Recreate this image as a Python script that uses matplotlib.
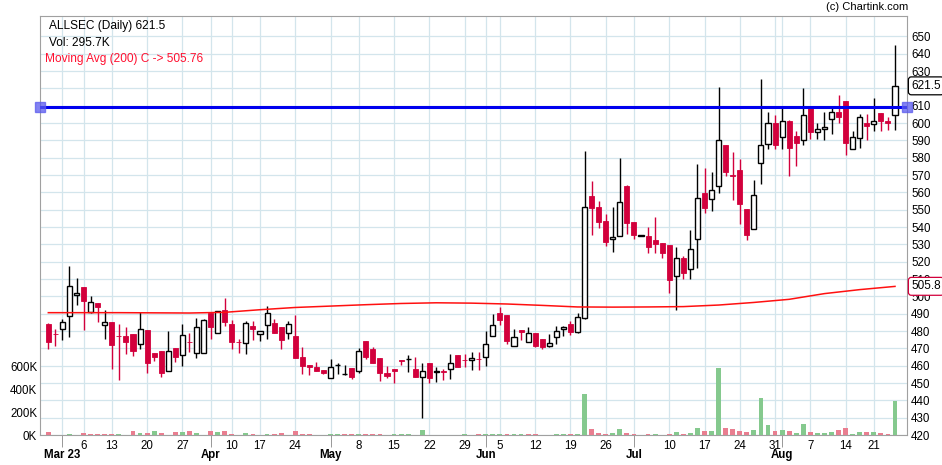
import numpy as np
import matplotlib
matplotlib.use("Agg")
import matplotlib.pyplot as plt
from matplotlib.transforms import blended_transform_factory

plt.rcParams['font.family'] = ['Liberation Sans', 'DejaVu Sans']

# daily OHLC (Feb 27 .. Aug 24, trading days only)
opens = [484, 478.3, 481.3, 488.8, 500.6, 505.4, 490.8, 496.2, 483.3, 485.2,
         477.4, 477.1, 478.3, 472.3, 480.6, 467.3, 468.7, 456.7, 470, 466,
         473.9, 467.1, 467.1, 490.6, 478.7, 492.1, 484, 473.7, 472.9, 482.7,
         478.1, 483.3, 484.6, 482.1, 478.7, 477.1, 465.2, 460.4, 459.2, 457.5,
         452.7, 460.4, 455.2, 458.8, 457.1, 474.4, 469.4, 464.6, 456, 458,
         463.3, 463.7, 458, 453.7, 461.3, 456.5, 456.7, 457.9, 466, 463.5,
         463.1, 464, 464.8, 477.1, 490.6, 489.2, 471.3, 480.6, 473.5, 478.9,
         475.2, 471.5, 476.3, 481, 484, 479.6, 487.3, 558, 551.6, 543.5,
         532.9, 534.7, 563.8, 542.9, 535, 534.9, 532.5, 530.6, 529.7, 511.7,
         521.9, 515.6, 532.9, 559.5, 556, 563.6, 587.5, 569.9, 573, 550.7,
         538.7, 576.9, 587.9, 600, 592.1, 601.3, 592.7, 590.2, 608.7, 595,
         596.5, 602.3, 606.2, 612.9, 585, 591.3, 600, 599.4, 605.8, 601.3,
         604.6]
highs = [484.5, 481, 486.7, 517.7, 510.6, 505.4, 500.2, 496.2, 492.1, 485.2,
         484, 482.1, 478.3, 491.2, 480.6, 467.3, 468.7, 480.2, 470, 484,
         478.6, 487.3, 486.7, 490.6, 491.7, 498.8, 486.3, 475.2, 486, 486,
         480, 494.6, 486.7, 482.1, 486, 489.2, 470.6, 460.4, 461.9, 457.5,
         463.8, 461.7, 460.4, 458.8, 470, 474.4, 470.8, 464.6, 459.8, 458,
         463.3, 466, 464.8, 461.3, 461.3, 459, 457.9, 466.7, 466, 466.7,
         467.9, 468.1, 480, 489.8, 493.6, 489.2, 481, 480.6, 482.5, 478.9,
         475.2, 478.3, 482.9, 482.9, 486, 490.6, 584, 566.6, 555.1, 547.4,
         551.6, 579.6, 564.3, 542.9, 535, 540, 545.8, 530.6, 529.7, 528.7,
         523.3, 538.3, 576.3, 574, 571.9, 620.6, 587.5, 583.4, 579.2, 550.7,
         567, 625.4, 606.2, 604.8, 608.7, 602, 595.5, 620.2, 608.7, 600,
         606.2, 608.7, 616.3, 612.9, 595.2, 605.2, 605.2, 614.2, 605.8, 603.3,
         645.2]
lows = [469.6, 471.5, 474.8, 476.7, 495, 480.6, 490.2, 485.4, 475.4, 458,
        451.7, 466.7, 465.6, 469.6, 456, 462.7, 453.7, 456.7, 462.3, 460,
        468.1, 464.2, 467.1, 475.2, 478.7, 483.1, 469.6, 467.5, 466.7, 474.8,
        474.4, 475.6, 479, 469.6, 475.2, 464.6, 455, 454.6, 457.1, 455.2,
        452.7, 455.2, 454.6, 452.3, 455.6, 463.8, 461.3, 451.3, 452.7, 449.8,
        460.4, 456.5, 453.3, 429.6, 449.8, 450.8, 451.7, 452.3, 459, 459,
        457.5, 457.5, 460, 477.1, 483.5, 472.3, 471.3, 474.8, 473.5, 471,
        469.6, 471, 472.5, 477.1, 477.7, 478.7, 486.7, 535.4, 539.7, 529.1,
        525.8, 534.7, 535.8, 532.9, 535, 524.8, 524.8, 522.3, 501.7, 491.9,
        509.8, 509.8, 516.6, 548, 549.3, 559.9, 569.5, 555.5, 542, 532.4,
        538.7, 564.7, 585, 585, 585, 569.5, 575.3, 587.5, 590.8, 590.8,
        590.2, 593.7, 599.8, 581.5, 585, 585.6, 590.2, 595.6, 595.2, 596,
        596]
closes = [473.8, 478.1, 485, 506, 501.7, 497.5, 496.5, 494, 485, 471.9,
          477.1, 473.8, 468.7, 481, 461.7, 464.8, 456, 468.5, 465.2, 477.5,
          473.7, 482.1, 486.2, 482.5, 491.7, 485, 473.8, 473.5, 484.4, 481.3,
          480, 490.2, 479, 474.8, 483.8, 464.6, 460, 459.4, 457.1, 456,
          459, 460.4, 455.2, 453.7, 468.5, 465.2, 461.7, 456, 454, 457.1,
          462.7, 463.7, 453.3, 457.1, 452.7, 456.5, 456.5, 461.3, 459.4, 463.3,
          464.6, 463.8, 472.3, 483.3, 486.3, 474.2, 476.7, 479.2, 478.9, 471.5,
          471, 472.9, 480, 482.1, 479.6, 487.9, 551.6, 551.2, 543.1, 531.6,
          534.3, 554.3, 542.6, 535.4, 535, 528.7, 530, 524.8, 509.4, 521.9,
          513.3, 527.1, 556.6, 550.8, 561.4, 590.2, 571.5, 569.7, 553.5, 535.4,
          558.4, 587.5, 600, 587.5, 601.3, 585.6, 588.8, 604.6, 594.6, 596.5,
          597.9, 606.5, 603.3, 588.5, 591.7, 603.3, 598.1, 601.3, 601, 600,
          621.5]
# volume in thousands
volume_k = [26, 3, 3, 9, 3, 15, 9, 9, 9, 9,
            9, 3, 35, 17, 17, 35, 17, 3, 26, 26,
            35, 17, 3, 35, 26, 35, 9, 3, 17, 9,
            3, 9, 9, 17, 3, 35, 9, 9, 3, 3,
            9, 9, 9, 9, 9, 9, 9, 9, 3, 9,
            9, 9, 3, 43, 3, 3, 3, 3, 3, 9,
            3, 9, 9, 9, 9, 9, 9, 9, 9, 9,
            3, 3, 9, 9, 9, 9, 357, 52, 20, 12,
            20, 52, 17, 12, 3, 12, 9, 3, 12, 26,
            12, 17, 61, 38, 38, 586, 61, 52, 38, 26,
            44, 325, 87, 38, 44, 38, 17, 96, 26, 17,
            17, 26, 44, 61, 9, 26, 26, 26, 17, 12,
            295.7]

# 200 day moving average, read at a few candles
ma_pos = [0, 10, 20, 25, 30, 35, 40, 45, 50, 55, 60, 65, 70, 75, 80, 85,
          90, 95, 100, 105, 110, 115, 120]
ma_val = [490.6, 490.6, 490.4, 490.8, 492.3, 493.6, 494.4, 495.2, 495.9, 496.3,
          496.1, 495.6, 494.8, 493.9, 493.8, 493.9, 494.1, 495.0, 496.5, 498.3,
          501.6, 503.9, 505.76]

day_pos = [5, 9, 14, 19, 26, 30, 35, 44, 49, 54, 59, 64, 69, 74, 79,
           88, 93, 98, 103, 108, 113, 117]
day_labels = ['6', '13', '20', '27', '10', '17', '24', '8', '15', '22', '29',
              '5', '12', '19', '26', '10', '17', '24', '31', '7', '14', '21']
month_pos = [2, 23, 40, 62, 83, 104]
month_labels = ['Mar 23', 'Apr', 'May', 'Jun', 'Jul', 'Aug']

hline_level = 609.2
last_close = 621.5
last_ma = 505.8

red = '#d2003c'
grid_c = '#d3e5ec'

o = np.array(opens)
h = np.array(highs)
l = np.array(lows)
c = np.array(closes)
x = np.arange(len(c))

fig = plt.figure(figsize=(9.42, 4.65), dpi=100)
ax = fig.add_axes([40 / 942, 30 / 465, 867 / 942, 419.5 / 465])
vax = ax.twinx()

ax.set_xlim(-1.18, 121.7)
ax.set_ylim(420, 662.1)
ax.set_axisbelow(True)

ax.yaxis.tick_right()
ax.yaxis.set_label_position('right')
ax.set_yticks(range(420, 651, 10))
ax.tick_params(axis='y', length=0, pad=3, labelsize=8.3)

ax.set_xticks(day_pos, day_labels)
ax.set_xticks(month_pos, month_labels, minor=True)
ax.tick_params(axis='x', which='major', length=0, pad=3.5, labelsize=8.3)
ax.tick_params(axis='x', which='minor', length=8.6, pad=1.5, labelsize=8.3,
               color='#888888')
for t in ax.get_xticklabels(minor=True):
    t.set_fontweight('bold')

ax.grid(True, axis='x', which='both', color=grid_c, lw=0.9)
ax.grid(True, axis='y', which='major', color=grid_c, lw=0.9)
for s in ax.spines.values():
    s.set_color('#a0a0a0')

# candles
up = c > o
down = c < o
flat = c == o
wick_cols = np.where(down, red, 'black')
ax.vlines(x, l, h, colors=wick_cols, lw=1, zorder=2)
body_b = np.minimum(o, c)
body_h = np.maximum(np.abs(c - o), 0.15)
ax.bar(x[up | flat], body_h[up | flat], bottom=body_b[up | flat], width=0.72,
       facecolor='white', edgecolor='black', lw=1, zorder=3)
ax.bar(x[down], body_h[down], bottom=body_b[down], width=0.72,
       facecolor=red, edgecolor=red, lw=0.6, zorder=3)

ax.plot(ma_pos, ma_val, color='#ff1010', lw=1.1, zorder=4)

# horizontal level line
ax.axhline(hline_level, color='#0000ee', lw=2.2, zorder=5)
tr = blended_transform_factory(ax.transAxes, ax.transData)
ax.plot([0, 1], [hline_level, hline_level], 's', ms=7, color='#5a5aee',
        alpha=0.75, transform=tr, clip_on=False, zorder=6)

ax.text(1.005, last_close, f'{last_close}', transform=tr, va='center', ha='left',
        fontsize=8.5, zorder=7,
        bbox=dict(boxstyle='round,pad=0.25', fc='white', ec='black', lw=0.9))
ax.text(1.005, last_ma, f'{last_ma}', transform=tr, va='center', ha='left',
        fontsize=8.5, zorder=7,
        bbox=dict(boxstyle='round,pad=0.25', fc='white', ec=red, lw=0.9))

# volume
vax.set_ylim(0, 3648)
vax.yaxis.tick_left()
vax.yaxis.set_label_position('left')
vax.set_yticks([0, 200, 400, 600], ['0K', '200K', '400K', '600K'])
vax.tick_params(axis='y', length=0, pad=2, labelsize=8.3)
for s in vax.spines.values():
    s.set_visible(False)
prev_close = np.concatenate([[o[0]], c[:-1]])
vol_cols = np.where(c >= prev_close, '#85c98e', '#e97e90')
vax.bar(x, volume_k, width=0.68, color=vol_cols, zorder=2)

fig.text(49 / 942, 1 - 26 / 465, f'ALLSEC (Daily) {last_close}', fontsize=8.6,
         va='center', ha='left')
fig.text(49 / 942, 1 - 43 / 465, 'Vol: 295.7K', fontsize=8.6, va='center', ha='left')
fig.text(45 / 942, 1 - 59 / 465, 'Moving Avg (200) C -> 505.76', fontsize=8.6,
         va='center', ha='left', color='#ff1030')
fig.text(908 / 942, 1 - 7 / 465, '(c) Chartink.com', fontsize=8, va='center',
         ha='right')

fig.savefig('out.png', dpi=100)
